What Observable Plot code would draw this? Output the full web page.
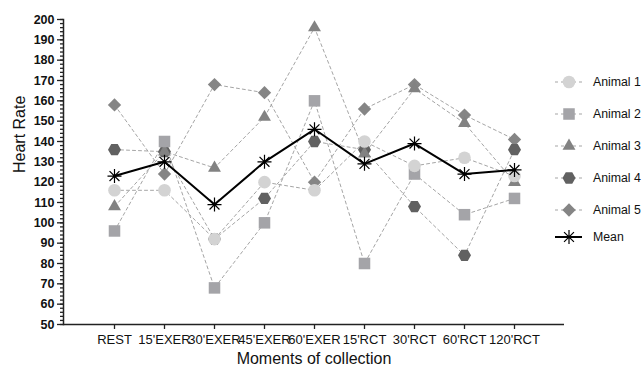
<!DOCTYPE html>
<html>
<head>
<meta charset="utf-8">
<script src="https://cdn.jsdelivr.net/npm/d3@7"></script>
<script src="https://cdn.jsdelivr.net/npm/@observablehq/plot@0.6"></script>
<style>
  body { margin: 0; background: #fff; }
  #chart svg { font-family: "Liberation Sans", Arial, sans-serif; }
</style>
</head>
<body>
<div id="chart"></div>
<script>
const categories = ["REST", "15'EXER", "30'EXER", "45'EXER", "60'EXER", "15'RCT", "30'RCT", "60'RCT", "120'RCT"];
const animal1 = [116, 116, 92, 120, 116, 140, 128, 132, 123];
const animal2 = [96, 140, 68, 100, 160, 80, 124, 104, 112];
const animal3 = [108, 135, 127, 152, 196, 134, 166, 149, 120];
const animal4 = [136, 135, 92, 112, 140, 136, 108, 84, 136];
const animal5 = [158, 124, 168, 164, 120, 156, 168, 153, 141];
const meanValues = [123, 130, 109, 130, 146, 129, 139, 124, 126];
const seriesNames = ["Animal 1", "Animal 2", "Animal 3", "Animal 4", "Animal 5"];
const yTicks = [50, 60, 70, 80, 90, 100, 110, 120, 130, 140, 150, 160, 170, 180, 190, 200];

// flat-top hexagon (points left/right) and 8-spoke asterisk
const hexFlat = {
  draw(context, size) {
    const r = Math.sqrt(size / Math.PI);
    for (let k = 0; k < 6; k++) {
      const a = Math.PI / 3 * k;
      const x = Math.cos(a) * r, y = Math.sin(a) * r;
      if (k === 0) context.moveTo(x, y); else context.lineTo(x, y);
    }
    context.closePath();
  }
};
const star = {
  draw(context, size) {
    const r = Math.sqrt(size / Math.PI);
    const d = r * Math.SQRT1_2;
    context.moveTo(0, -r); context.lineTo(0, r);
    context.moveTo(-r, 0); context.lineTo(r, 0);
    context.moveTo(-d, -d); context.lineTo(d, d);
    context.moveTo(-d, d); context.lineTo(d, -d);
  }
};

const series = [animal1, animal2, animal3, animal4, animal5];
const symbols = [d3.symbolCircle, d3.symbolSquare, d3.symbolTriangle, hexFlat, d3.symbolDiamond2];
const fills = ["#d3d3d3", "#a4a4a8", "#828282", "#616161", "#858585"];
const radii = [6.3, 6.5, 4.8, 6.5, 6];

const rows = [];
series.forEach((vals, s) => vals.forEach((v, i) => rows.push({series: seriesNames[s], cat: categories[i], value: v})));
const meanRows = categories.map((c, i) => ({cat: c, value: meanValues[i]}));

const marks = [
  Plot.axisY({ticks: d3.range(50, 201, 2), tickSize: 3, text: null, stroke: "#222", strokeWidth: 1.3}),
  Plot.axisY({ticks: yTicks, tickSize: 6, tickPadding: 3, fontSize: 12.5, fontWeight: "bold", fill: "#111", stroke: "#222", strokeWidth: 1.3, label: null}),
  Plot.axisX({tickSize: 5, tickPadding: 5, fontSize: 13, fill: "#111", stroke: "#222", strokeWidth: 1.3, label: null}),
  Plot.frame({anchor: "left", stroke: "#222", strokeWidth: 1.5}),
  Plot.ruleY([50], {stroke: "#222", strokeWidth: 1.5}),
  Plot.text(["Heart Rate"], {frameAnchor: "left", dx: -44, dy: 1, rotate: -90, fontSize: 16, fill: "#111"}),
  Plot.text(["Moments of collection"], {frameAnchor: "bottom", dy: 39, fontSize: 16, fill: "#111"})
];
// draw later series first so Animal 1 sits on top
for (let s = seriesNames.length - 1; s >= 0; s--) {
  const name = seriesNames[s];
  marks.push(Plot.line(rows.filter(d => d.series === name), {x: "cat", y: "value", stroke: "#a5a5a5", strokeWidth: 1, strokeDasharray: "3,3"}));
}
for (let s = seriesNames.length - 1; s >= 0; s--) {
  const name = seriesNames[s];
  marks.push(Plot.dot(rows.filter(d => d.series === name), {x: "cat", y: "value", symbol: symbols[s], fill: fills[s], r: radii[s], stroke: "none"}));
}
marks.push(Plot.line(meanRows, {x: "cat", y: "value", stroke: "black", strokeWidth: 2}));
marks.push(Plot.dot(meanRows, {x: "cat", y: "value", symbol: star, stroke: "black", fill: "none", strokeWidth: 1.2, r: 7}));

const chart = Plot.plot({
  width: 642,
  height: 372,
  marginLeft: 63,
  marginRight: 78,
  marginTop: 19,
  marginBottom: 48,
  style: {background: "white", fontFamily: "Liberation Sans, Arial, sans-serif"},
  x: {type: "point", domain: categories, padding: 1, label: null},
  y: {domain: [50, 200], label: null},
  marks
});
document.getElementById("chart").appendChild(chart);

// legend
const svg = d3.select(chart);
const lg = svg.append("g").attr("text-anchor", "start");
const legendY = [82, 114, 146, 178, 210, 237];
const legendLabels = seriesNames.concat(["Mean"]);
legendLabels.forEach((label, i) => {
  const y = legendY[i];
  const g = lg.append("g");
  if (i < 5) {
    g.append("line").attr("x1", 555).attr("x2", 583).attr("y1", y).attr("y2", y)
      .attr("stroke", "#a5a5a5").attr("stroke-width", 1).attr("stroke-dasharray", "3,3");
    const r = radii[i];
    g.append("path").attr("d", d3.symbol(symbols[i], Math.PI * r * r)())
      .attr("transform", `translate(569,${y})`).attr("fill", fills[i]);
  } else {
    g.append("line").attr("x1", 555).attr("x2", 582).attr("y1", y).attr("y2", y)
      .attr("stroke", "black").attr("stroke-width", 2);
    g.append("path").attr("d", d3.symbol(star, Math.PI * 7 * 7)())
      .attr("transform", `translate(569,${y})`).attr("fill", "none").attr("stroke", "black").attr("stroke-width", 1.2);
  }
  g.append("text").attr("x", 593).attr("y", y).attr("dy", "0.35em")
    .attr("font-size", 12.3).attr("fill", "#111").text(label);
});
</script>
</body>
</html>
